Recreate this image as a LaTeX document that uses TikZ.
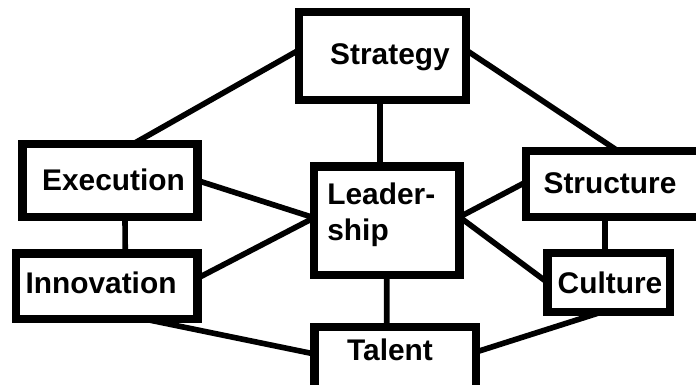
\documentclass[tikz,border=0pt]{standalone}
\usepackage{fontspec}
\setmainfont{Liberation Sans}
\usetikzlibrary{calc}
\tikzset{
  box/.style={draw, line width=4.8pt, rectangle, inner sep=0pt, outer sep=0pt},
  lbl/.style={inner sep=0pt, font=\fontsize{17}{20.4}\selectfont\bfseries},
  link/.style={line width=3.2pt}
}
\begin{document}
\begin{tikzpicture}[x=0.02cm,y=-0.02cm]
    \useasboundingbox (0,0) rectangle (696,385);
    \clip (0,0) rectangle (696,385);

    \node[box, minimum width=3.34cm, minimum height=1.75cm] (strat) at (382.5,56) {};
    \node[box, minimum width=3.5cm, minimum height=1.46cm] (exec) at (110,180.5) {};
    \node[box, minimum width=3.63cm, minimum height=1.31cm] (innov) at (106.75,286.25) {};
    \node[box, minimum width=2.91cm, minimum height=2.17cm] (lead) at (386.75,220.75) {};
    \node[box, minimum width=3.68cm, minimum height=1.32cm] (struct) at (618,184) {};
    \node[box, minimum width=2.45cm, minimum height=1.18cm] (cult) at (608.75,282.5) {};
    \node[box, minimum width=3.23cm, minimum height=1.36cm] (talent) at (395.3,361) {};

    \node[lbl, anchor=base] (strattxt) at (390,65) {Strategy};
    \node[lbl, anchor=base] (exectxt) at (113.5,190) {Execution};
    \node[lbl, anchor=base] (innovtxt) at (101,293) {Innovation};
    \node[lbl, anchor=base west, align=left] (leadtxt) at (327,240) {Leader-\\ship};
    \node[lbl, anchor=base] (structtxt) at (610,193) {Structure};
    \node[lbl, anchor=base] (culttxt) at (610,293) {Culture};
    \node[lbl, anchor=base] (talenttxt) at (390,360) {Talent};

    \draw[link] ($(strat.west)+(0,-6)$) -- ($(exec.north)+(23,0)$);
    \draw[link] ($(strat.east)+(0,-6)$) -- (struct.north);
    \draw[link] ($(strat.south)+(-2.5,0)$) -- ($(lead.north)+(-6.75,0)$);

    \draw[link] (exec.east) -- ($(lead.west)+(0,-3)$);
    \draw[link] ($(innov.east)+(0,-8)$) -- ($(lead.west)+(0,-3)$);
    \draw[link] ($(exec.south)+(15,0)$) -- ($(innov.north)+(18.5,0)$);

    \draw[link] ($(lead.east)+(0,-3.75)$) -- ($(struct.west)+(0,-2)$);
    \draw[link] ($(lead.east)+(0,-3.75)$) -- (cult.west);
    \draw[link] ($(struct.south)+(-13,0)$) -- ($(cult.north)+(-3.75,0)$);

    \draw[link] (lead.south) -- ($(talent.north)+(-8.6,0)$);
    \draw[link] ($(innov.south)+(37.5,0)$) -- ($(talent.west)+(0,-7)$);
    \draw[link] ($(cult.south)+(-7,0)$) -- ($(talent.east)+(0,-9)$);

\end{tikzpicture}
\end{document}
